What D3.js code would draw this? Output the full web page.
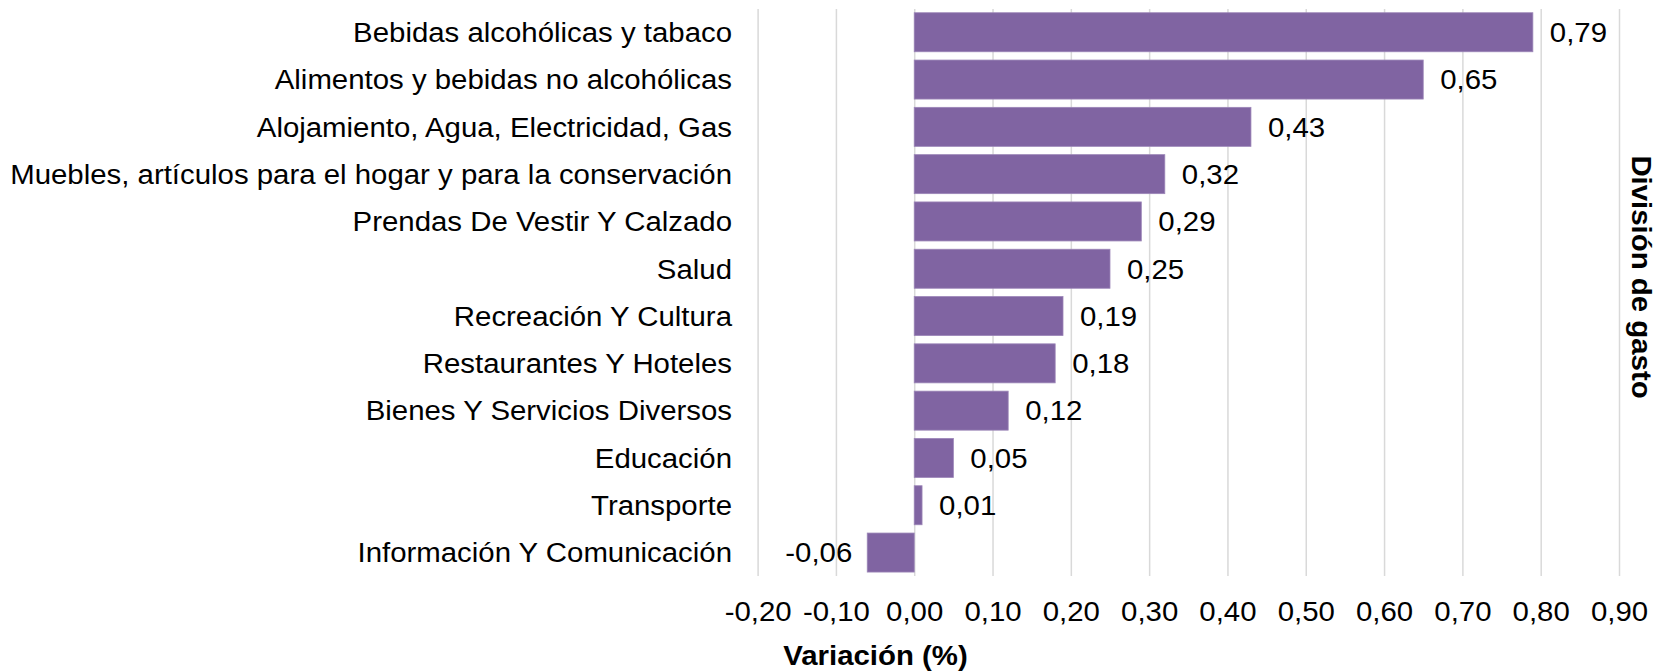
<!DOCTYPE html>
<html>
<head>
<meta charset="utf-8">
<script src="https://cdn.jsdelivr.net/npm/d3@7"></script>
<style>
  html, body { margin: 0; padding: 0; background: #fff; }
  svg { display: block; }
  text { font-family: "Liberation Sans", Arial, sans-serif; fill: #000; }
</style>
</head>
<body>
<svg id="chart" width="1659" height="671"></svg>
<script>
const categories = [
  "Bebidas alcohólicas y tabaco",
  "Alimentos y bebidas no alcohólicas",
  "Alojamiento, Agua, Electricidad, Gas",
  "Muebles, artículos para el hogar y para la conservación",
  "Prendas De Vestir Y Calzado",
  "Salud",
  "Recreación Y Cultura",
  "Restaurantes Y Hoteles",
  "Bienes Y Servicios Diversos",
  "Educación",
  "Transporte",
  "Información Y Comunicación"
];
const values = [0.79, 0.65, 0.43, 0.32, 0.29, 0.25, 0.19, 0.18, 0.12, 0.05, 0.01, -0.06];
const tickValues = [-0.2, -0.1, 0.0, 0.1, 0.2, 0.3, 0.4, 0.5, 0.6, 0.7, 0.8, 0.9];
const xAxisTitle = "Variación (%)";
const yAxisTitle = "División de gasto";

const FS = 28, SX = 1.05;
const svg = d3.select("#chart");
const locale = d3.formatLocale({decimal: ",", thousands: ".", grouping: [3], currency: ["", ""], minus: "-"});
const fmt = locale.format(".2f");

const x = d3.scaleLinear().domain([-0.2, 0.9]).range([757.6, 1619]);
const y = d3.scaleBand().domain(categories).range([8.6, 576.2]).paddingInner(0.175).paddingOuter(0.0875);

// gridlines
const grid = svg.append("g").attr("transform", `translate(0,${576})`)
  .call(d3.axisBottom(x).tickValues(tickValues).tickSize(-(576 - 9)).tickFormat(""));
grid.select(".domain").remove();
grid.selectAll(".tick line").attr("stroke", "#d9d9d9").attr("stroke-width", 1.5);

// bars
svg.append("g").selectAll("rect").data(values).join("rect")
  .attr("x", d => x(Math.min(0, d)))
  .attr("width", d => Math.abs(x(d) - x(0)))
  .attr("y", (d, i) => y(categories[i]))
  .attr("height", y.bandwidth())
  .attr("fill", "#8064A2")
  .attr("stroke", "#9c86b8").attr("stroke-width", 0.8);

function scaledText(sel, tx, ty, anchor) {
  return sel.append("text")
    .attr("transform", `translate(${tx},${ty}) scale(${SX},1)`)
    .attr("text-anchor", anchor)
    .attr("dominant-baseline", "central")
    .style("font-size", FS + "px");
}

// category labels
const yAxis = svg.append("g").attr("transform", `translate(732,0)`)
  .call(d3.axisLeft(y).tickSize(0).tickPadding(0));
yAxis.select(".domain").remove();
yAxis.selectAll(".tick text")
  .attr("x", 0).attr("dy", null)
  .attr("dominant-baseline", "central")
  .attr("transform", `scale(${SX},1)`)
  .attr("fill", "#000")
  .style("font-size", FS + "px")
  .style("font-family", "'Liberation Sans', Arial, sans-serif");

// data labels
const lbl = svg.append("g");
values.forEach((v, i) => {
  const cy = y(categories[i]) + y.bandwidth() / 2;
  if (v >= 0) scaledText(lbl, x(v) + 17, cy, "start").text(fmt(v));
  else scaledText(lbl, x(v) - 15, cy, "end").text(fmt(v));
});

// x tick labels
const xAxis = svg.append("g").attr("transform", `translate(0,611)`)
  .call(d3.axisBottom(x).tickValues(tickValues).tickSize(0).tickPadding(0).tickFormat(fmt));
xAxis.select(".domain").remove();
xAxis.selectAll(".tick text")
  .attr("y", 0).attr("dy", null)
  .attr("dominant-baseline", "central")
  .attr("transform", `scale(${SX},1)`)
  .attr("fill", "#000")
  .style("font-size", FS + "px")
  .style("font-family", "'Liberation Sans', Arial, sans-serif");

// axis titles
scaledText(svg, 875.5, 655, "middle").style("font-weight", "bold").text(xAxisTitle);
svg.append("text")
  .attr("transform", `translate(1642,277) rotate(90) scale(${SX},1)`)
  .attr("text-anchor", "middle")
  .attr("dominant-baseline", "central")
  .style("font-size", FS + "px")
  .style("font-weight", "bold")
  .text(yAxisTitle);
</script>
</body>
</html>
